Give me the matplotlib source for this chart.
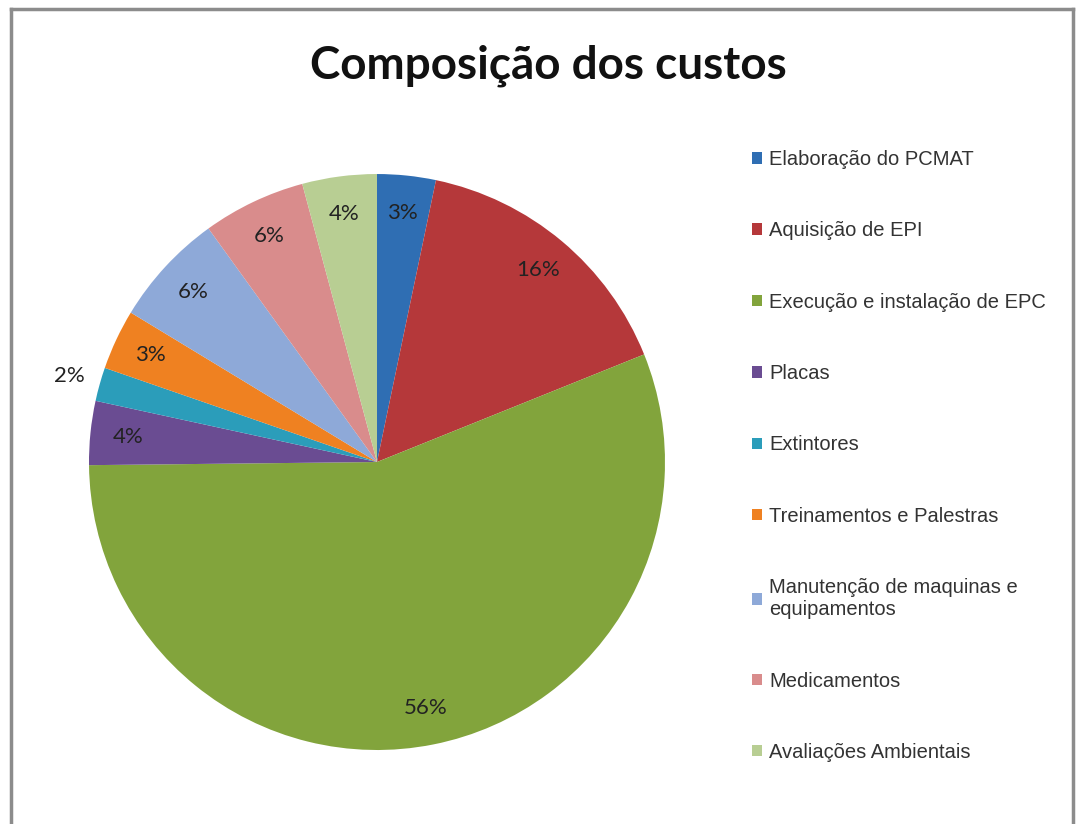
import numpy as np
import matplotlib.pyplot as plt
from matplotlib.lines import Line2D

# Composição dos custos - pie chart
categorias = [
    "Elaboração do PCMAT",
    "Aquisição de EPI",
    "Execução e instalação de EPC",
    "Placas",
    "Extintores",
    "Treinamentos e Palestras",
    "Manutenção de maquinas e\nequipamentos",
    "Medicamentos",
    "Avaliações Ambientais",
]
valores = [3.3, 15.7, 56.2, 3.6, 1.9, 3.4, 6.4, 5.8, 4.2]
rotulos = ["3%", "16%", "56%", "4%", "2%", "3%", "6%", "6%", "4%"]
cores = ["#2F6EB3", "#B5383A", "#82A43C", "#6A4C92", "#2B9DBA",
         "#EF8121", "#8EA9D8", "#D98C8C", "#B8CE93"]

fig = plt.figure(figsize=(10.88, 8.24), dpi=100)

# grey frame around the chart area
frame_kw = dict(color="#8c8c8c", linewidth=2.5, transform=fig.transFigure)
fig.add_artist(Line2D([11 / 1088, 11 / 1088], [0, 1 - 9 / 824], **frame_kw))
fig.add_artist(Line2D([11 / 1088, 1073 / 1088], [1 - 9 / 824, 1 - 9 / 824], **frame_kw))
fig.add_artist(Line2D([1073 / 1088, 1073 / 1088], [0, 1 - 9 / 824], **frame_kw))

ax = fig.add_axes([0.0818, 0.0898, 0.5294, 0.699])
wedges, _ = ax.pie(valores, colors=cores, startangle=90, counterclock=False,
                   radius=1.0, wedgeprops=dict(linewidth=0))
ax.set_xlim(-1, 1)
ax.set_ylim(-1, 1)
ax.set_aspect("equal")
ax.axis("off")

for w, txt in zip(wedges, rotulos):
    ang = np.deg2rad((w.theta1 + w.theta2) / 2)
    r = 0.87
    if txt == "2%":
        r = 1.11
    ax.text(r * np.cos(ang), r * np.sin(ang), txt, ha="center", va="center",
            fontsize=16, color="#222222", family=["Lato", "DejaVu Sans"])

fig.text(548 / 1088, 1 - 66 / 824, "Composição dos custos", ha="center", va="center",
         fontsize=33, fontweight="bold", color="#111111", family=["Lato", "DejaVu Sans"])

leg = fig.legend(wedges, categorias, loc="upper left", bbox_to_anchor=(752 / 1088, 1 - 150 / 824),
                 frameon=False, handlelength=0.5, handleheight=0.5, handletextpad=0.35,
                 labelspacing=2.6, borderaxespad=0, borderpad=0,
                 prop=dict(family=["Liberation Sans", "DejaVu Sans"], size=14.5))
for t in leg.get_texts():
    t.set_color("#333333")

fig.savefig("out.png", dpi=100, facecolor="white")
